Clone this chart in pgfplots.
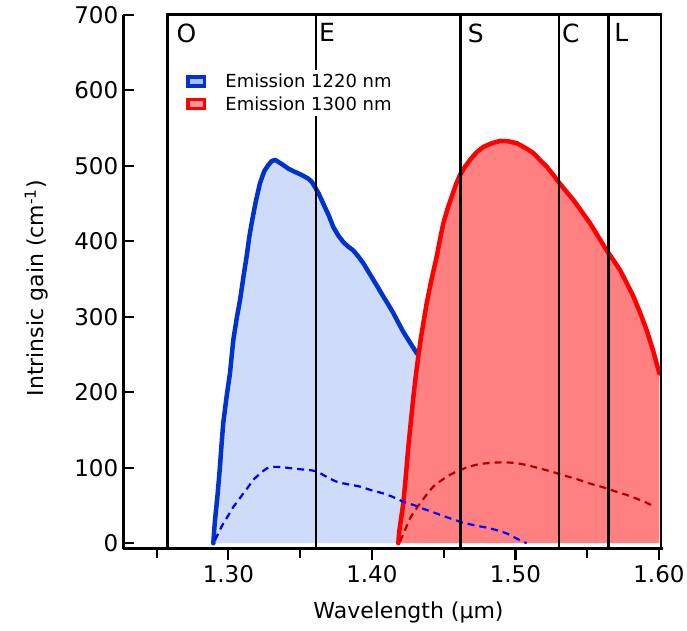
\documentclass[border=0pt]{standalone}
\usepackage{pgfplots}
\pgfplotsset{compat=1.18}
\usepackage{fontspec}
\setmainfont{DejaVu Sans}
\definecolor{bline}{RGB}{0,51,204}
\definecolor{bfill}{RGB}{206,220,250}
\definecolor{rline}{RGB}{255,0,0}
\definecolor{rfill}{RGB}{255,128,128}
\definecolor{bdash}{RGB}{0,0,255}
\definecolor{rdash}{RGB}{178,0,0}
\definecolor{bicon}{RGB}{170,190,240}
\definecolor{ricon}{RGB}{255,150,150}
\begin{document}
\begin{tikzpicture}
\path[use as bounding box] (0pt,0pt) rectangle (687pt,630pt);
\begin{axis}[
  at={(123.2pt,81.5pt)}, anchor=south west,
  scale only axis, width=539.3pt, height=533.6pt,
  xmin=1.2267, xmax=1.6025, ymin=-7, ymax=700,
  axis x line*=bottom, axis y line*=left,
  axis line style={line width=2.8pt, black},
  clip=false,
  /pgf/number format/assume math mode=true,
  xtick={1.3,1.4,1.5,1.6},
  xticklabels={1.30,1.40,1.50,1.60},
  minor xtick={1.25,1.35,1.45,1.55},
  ytick={0,100,...,700},
  tick align=inside,
  major tick length=11pt, minor tick length=9pt,
  tick style={line width=2.2pt, black},
  major x tick style={yshift=-11pt},
  minor x tick style={yshift=-9pt},
  x tick label style={font=\fontsize{23}{26}\selectfont, yshift=-13.8pt},
  y tick label style={font=\fontsize{23}{26}\selectfont, xshift=-1.5pt},
  xlabel={Wavelength (μm)},
  ylabel={Intrinsic gain (cm\textsuperscript{-1})},
  label style={font=\fontsize{22}{25}\selectfont},
  xlabel style={at={(axis description cs:0.529,-0.119)}, anchor=center},
  ylabel style={at={(axis description cs:-0.161,0.4876)}, anchor=center},
  legend style={at={(axis cs:1.2706,627.3)}, anchor=north west, draw=none, fill=white,
    inner xsep=0pt, inner ysep=2pt, font=\fontsize{18}{21}\selectfont, row sep=3.5pt,
    /tikz/every odd column/.append style={column sep=17pt}},
  legend cell align=left,
]
% blue fill (1220 nm)
\addplot[fill=bfill, draw=none, forget plot] coordinates {
(1.2895,0)(1.2900,15)(1.2907,31)(1.2925,65)(1.2941,101)(1.2952,130)(1.2964,159)(1.2988,195)(1.3011,225)(1.3034,269)(1.3058,298)(1.3081,322)(1.3104,352)(1.3127,380)(1.3145,405)(1.3162,424)(1.3190,452)(1.3220,477)(1.3250,493)(1.3278,501)(1.3300,506)(1.3325,508)(1.3350,505)(1.3383,501)(1.3420,496)(1.3464,492)(1.3510,488)(1.3557,483)(1.3580,479)(1.3603,472)(1.3630,463)(1.3661,450)(1.3700,434)(1.3731,419)(1.3765,408)(1.3801,399)(1.3835,393)(1.3870,388)(1.3905,380)(1.3940,371)(1.3975,360)(1.4010,349)(1.4045,338)(1.4079,327)(1.4115,316)(1.4149,305)(1.4185,292)(1.4219,280)(1.4265,266)(1.4312,252)(1.4360,242)(1.4360,0)};
% blue solid
\addplot[bline, line width=4.5pt, line join=round, line cap=round, forget plot] coordinates {
(1.2895,0)(1.2900,15)(1.2907,31)(1.2925,65)(1.2941,101)(1.2952,130)(1.2964,159)(1.2988,195)(1.3011,225)(1.3034,269)(1.3058,298)(1.3081,322)(1.3104,352)(1.3127,380)(1.3145,405)(1.3162,424)(1.3190,452)(1.3220,477)(1.3250,493)(1.3278,501)(1.3300,506)(1.3325,508)(1.3350,505)(1.3383,501)(1.3420,496)(1.3464,492)(1.3510,488)(1.3557,483)(1.3580,479)(1.3603,472)(1.3630,463)(1.3661,450)(1.3700,434)(1.3731,419)(1.3765,408)(1.3801,399)(1.3835,393)(1.3870,388)(1.3905,380)(1.3940,371)(1.3975,360)(1.4010,349)(1.4045,338)(1.4079,327)(1.4115,316)(1.4149,305)(1.4185,292)(1.4219,280)(1.4265,266)(1.4312,252)(1.4340,246)};
% red fill (1300 nm)
\addplot[fill=rfill, draw=none, forget plot] coordinates {
(1.4184,0)(1.4190,15)(1.4205,35)(1.4219,53)(1.4237,90)(1.4254,128)(1.4272,162)(1.4289,194)(1.4306,222)(1.4323,247)(1.4340,270)(1.4358,291)(1.4380,316)(1.4405,340)(1.4428,360)(1.4452,380)(1.4475,403)(1.4498,424)(1.4527,443)(1.4556,459)(1.4585,475)(1.4614,488)(1.4650,499)(1.4684,508)(1.4730,518)(1.4776,525)(1.4835,530)(1.4893,533)(1.4950,532.5)(1.5009,530)(1.5067,524)(1.5125,517)(1.5170,508)(1.5218,499)(1.5260,489)(1.5299,479)(1.5350,467)(1.5403,455)(1.5460,440)(1.5520,424)(1.5578,406)(1.5636,388)(1.5683,375)(1.5729,362)(1.5775,345)(1.5822,327)(1.5870,305)(1.5915,282)(1.5960,255)(1.6003,225)(1.6003,0)};
% red solid
\addplot[rline, line width=4.5pt, line join=round, line cap=round, forget plot] coordinates {
(1.4184,0)(1.4190,15)(1.4205,35)(1.4219,53)(1.4237,90)(1.4254,128)(1.4272,162)(1.4289,194)(1.4306,222)(1.4323,247)(1.4340,270)(1.4358,291)(1.4380,316)(1.4405,340)(1.4428,360)(1.4452,380)(1.4475,403)(1.4498,424)(1.4527,443)(1.4556,459)(1.4585,475)(1.4614,488)(1.4650,499)(1.4684,508)(1.4730,518)(1.4776,525)(1.4835,530)(1.4893,533)(1.4950,532.5)(1.5009,530)(1.5067,524)(1.5125,517)(1.5170,508)(1.5218,499)(1.5260,489)(1.5299,479)(1.5350,467)(1.5403,455)(1.5460,440)(1.5520,424)(1.5578,406)(1.5636,388)(1.5683,375)(1.5729,362)(1.5775,345)(1.5822,327)(1.5870,305)(1.5915,282)(1.5960,255)(1.6003,225)};
% red dashed
\addplot[rdash, line width=2.2pt, dash pattern=on 7pt off 5pt, smooth, forget plot] coordinates {
(1.4196,2)(1.4230,17)(1.4266,33)(1.4300,43)(1.4336,53)(1.4380,64)(1.4428,75)(1.4475,82)(1.4521,88)(1.4568,93)(1.4614,97)(1.4672,101)(1.4730,104)(1.4800,106)(1.4870,107)(1.4940,107)(1.5009,106)(1.5090,103)(1.5171,99)(1.5250,95)(1.5334,90)(1.5427,85)(1.5520,79)(1.5613,74)(1.5706,68)(1.5775,64)(1.5845,59)(1.5910,54)(1.5973,48)};
% blue dashed
\addplot[bdash, line width=2.2pt, dash pattern=on 7pt off 5pt, smooth, forget plot] coordinates {
(1.2907,4)(1.2935,15)(1.2964,26)(1.3000,37)(1.3034,48)(1.3070,57)(1.3104,66)(1.3140,75)(1.3174,84)(1.3220,92)(1.3267,99)(1.3310,101)(1.3360,101)(1.3430,99.5)(1.3499,98)(1.3560,97)(1.3615,95)(1.3685,88)(1.3755,81.5)(1.3835,78)(1.3917,75)(1.4000,70)(1.4079,66)(1.4150,61)(1.4219,55)(1.4300,50)(1.4382,44)(1.4500,36)(1.4614,28.5)(1.4720,23.5)(1.4823,19.7)(1.4939,13)(1.5000,7)(1.5079,0)};
% band box
\draw[line width=2.8pt, line join=miter] (axis cs:1.2575,-7) -- (axis cs:1.2575,700) -- (axis cs:1.6015,700) -- (axis cs:1.6015,-7);
\draw[line width=2.8pt] (axis cs:1.3610,-7) -- (axis cs:1.3610,700);
\draw[line width=2.8pt] (axis cs:1.4615,-7) -- (axis cs:1.4615,700);
\draw[line width=2.8pt] (axis cs:1.5304,-7) -- (axis cs:1.5304,700);
\draw[line width=2.8pt] (axis cs:1.5646,-7) -- (axis cs:1.5646,700);
\node[anchor=north west, inner sep=0pt, font=\fontsize{25}{30}\selectfont, xshift=9pt, yshift=-8.6pt] at (axis cs:1.2575,700) {O};
\node[anchor=north west, inner sep=0pt, font=\fontsize{25}{30}\selectfont, xshift=3pt, yshift=-8.6pt] at (axis cs:1.3610,700) {E};
\node[anchor=north west, inner sep=0pt, font=\fontsize{25}{30}\selectfont, xshift=7.5pt, yshift=-8.6pt] at (axis cs:1.4615,700) {S};
\node[anchor=north west, inner sep=0pt, font=\fontsize{25}{30}\selectfont, xshift=3pt, yshift=-8.6pt] at (axis cs:1.5304,700) {C};
\node[anchor=north west, inner sep=0pt, font=\fontsize{25}{30}\selectfont, xshift=6pt, yshift=-8.6pt] at (axis cs:1.5646,700) {L};
% legend
\addlegendimage{legend image code/.code={\draw[line width=3.5pt, draw=bline, fill=bicon] (1.75pt,-4.5pt) rectangle (18.25pt,4.5pt);}}
\addlegendentry{Emission 1220 nm}
\addlegendimage{legend image code/.code={\draw[line width=3.5pt, draw=rline, fill=ricon] (1.75pt,-4.5pt) rectangle (18.25pt,4.5pt);}}
\addlegendentry{Emission 1300 nm}
\end{axis}
\end{tikzpicture}
\end{document}
